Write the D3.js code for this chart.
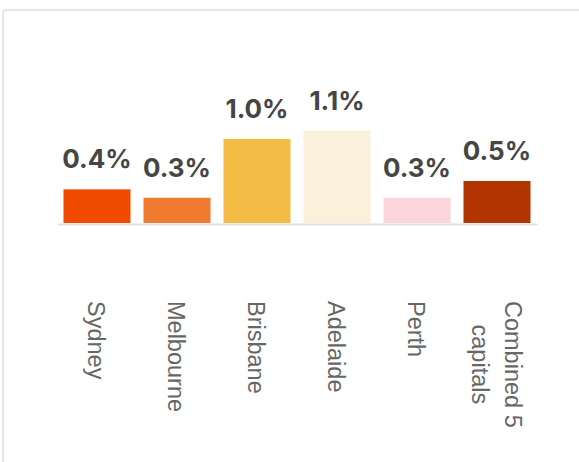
<!DOCTYPE html>
<html>
<head>
<meta charset="utf-8">
<script src="https://cdn.jsdelivr.net/npm/d3@7"></script>
<style>
  html, body { margin: 0; padding: 0; background: #fff; }
  svg { display: block; }
</style>
</head>
<body>
<div id="chart"></div>
<script>
// Annual change in dwelling values by capital city
const cities = ["Sydney", "Melbourne", "Brisbane", "Adelaide", "Perth", "Combined 5 capitals"];
const cityLines = [["Sydney"], ["Melbourne"], ["Brisbane"], ["Adelaide"], ["Perth"], ["Combined 5", "capitals"]];
const changePct = [0.4, 0.3, 1.0, 1.1, 0.3, 0.5];
const barColors = ["#f04a00", "#f07a30", "#f2bc45", "#fbf0da", "#fbd5da", "#b23400"];

const W = 579, H = 462;
const svg = d3.select("#chart").append("svg")
  .attr("width", W).attr("height", H);

// card outline
svg.append("rect")
  .attr("x", 3).attr("y", 10)
  .attr("width", W + 10).attr("height", H + 10)
  .attr("rx", 3)
  .attr("fill", "#fff")
  .attr("stroke", "#e6e6e6")
  .attr("stroke-width", 2);

const baseY = 223;
const x = d3.scaleBand()
  .domain(cities)
  .range([57, 537])
  .paddingInner(0.1625)
  .paddingOuter(0.08125);

const y = d3.scaleLinear()
  .domain([0, 1.1])
  .range([baseY, baseY - 92.5]);

// bars
svg.append("g").selectAll("rect")
  .data(cities)
  .join("rect")
  .attr("x", d => x(d))
  .attr("width", x.bandwidth())
  .attr("y", (d, i) => y(changePct[i]))
  .attr("height", (d, i) => y(0) - y(changePct[i]))
  .attr("fill", (d, i) => barColors[i]);

// baseline axis
const axis = svg.append("g")
  .attr("transform", `translate(0,${baseY + 1})`)
  .call(d3.axisBottom(x).tickSize(0).tickFormat(""));
axis.select(".domain").attr("stroke", "#e0e0e0").attr("stroke-width", 2);

// value labels
svg.append("g").selectAll("text")
  .data(cities)
  .join("text")
  .attr("x", d => x(d) + x.bandwidth() / 2)
  .attr("y", (d, i) => y(changePct[i]) - 21)
  .attr("text-anchor", "middle")
  .attr("font-family", "Inter, 'Noto Sans', sans-serif")
  .attr("font-weight", 700)
  .attr("font-size", 26)
  .attr("fill", "#454545")
  .text((d, i) => changePct[i].toFixed(1) + "%");

// rotated category labels, lines centred on each other
const labelTop = 301, lineGap = 33, fs = 23.5;
cities.forEach((c, i) => {
  const cx = x(c) + x.bandwidth() / 2;
  const lines = cityLines[i];
  const g = svg.append("g");
  const texts = lines.map((ln, j) => {
    const off = -9 + ((lines.length - 1) / 2 - j) * lineGap;
    return g.append("text")
      .attr("font-family", "'Liberation Sans', Arial, sans-serif")
      .attr("font-size", fs)
      .attr("fill", "#666")
      .text(ln)
      .datum({ off });
  });
  const lens = texts.map(t => t.node().getComputedTextLength());
  const maxLen = d3.max(lens);
  texts.forEach((t, j) => {
    const startY = labelTop + (maxLen - lens[j]) / 2;
    t.attr("transform", `translate(${cx + t.datum().off},${startY}) rotate(90)`);
  });
});
</script>
</body>
</html>
